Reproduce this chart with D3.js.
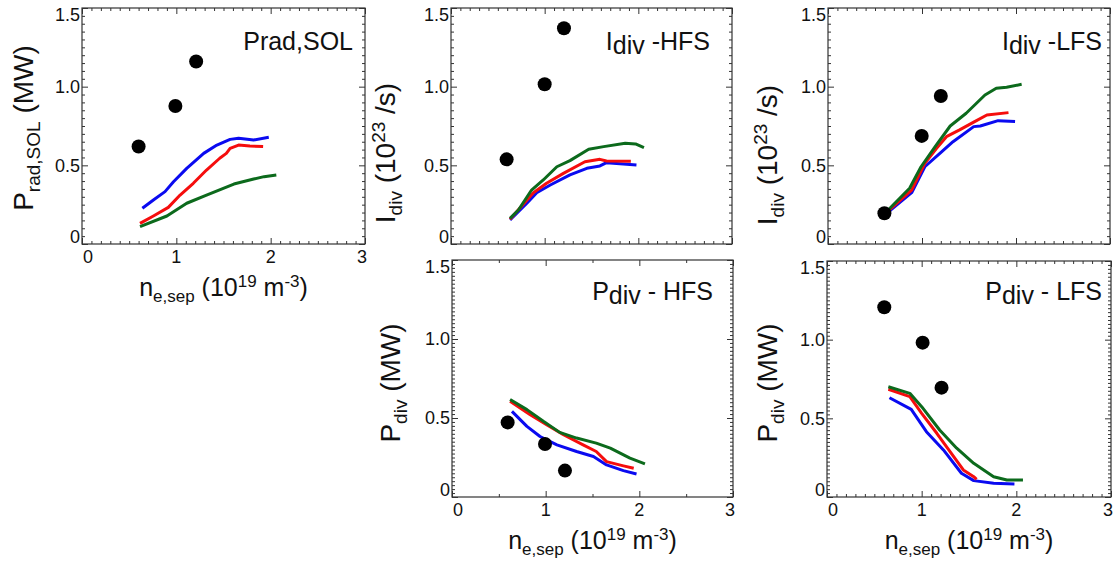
<!DOCTYPE html>
<html>
<head>
<meta charset="utf-8">
<script src="https://cdn.jsdelivr.net/npm/d3@7"></script>
<style>
  html, body { margin: 0; padding: 0; background: #fff; }
  svg { display: block; font-family: "Liberation Sans", Arial, Helvetica, sans-serif; }
</style>
</head>
<body>
<svg id="chart" width="1119" height="567"></svg>
<script>
// ---------- data ----------
const xTickValues = [0, 1, 2, 3];
const xTickLabels = ["0", "1", "2", "3"];
const yTickValues = [0, 0.5, 1.0, 1.5];
const yTickLabels = ["0", "0.5", "1.0", "1.5"];
const seriesNames = ["blue", "red", "green"];

// Panel A: Prad,SOL (MW)
const pradDots  = [[0.60, 0.62], [0.99, 0.877], [1.21, 1.16]];
const pradBlue  = [[0.64,0.227],[0.757,0.28],[0.88,0.333],[0.97,0.396],[1.11,0.481],[1.29,0.576],[1.43,0.629],[1.57,0.665],[1.66,0.672],[1.82,0.661],[1.98,0.678]];
const pradRed   = [[0.615,0.131],[0.757,0.178],[0.915,0.233],[1.04,0.311],[1.18,0.386],[1.32,0.47],[1.46,0.545],[1.53,0.576],[1.57,0.608],[1.66,0.629],[1.78,0.623],[1.92,0.619]];
const pradGreen = [[0.615,0.11],[0.90,0.178],[1.11,0.259],[1.32,0.311],[1.61,0.381],[1.82,0.413],[1.93,0.428],[2.06,0.439]];

// Panel B: Idiv - HFS (1e23 /s)
const idivHfsDots  = [[0.594, 0.538], [1.0, 1.015], [1.206, 1.371]];
const idivHfsBlue  = [[0.63,0.153],[0.81,0.259],[0.915,0.326],[1.06,0.375],[1.27,0.439],[1.45,0.481],[1.59,0.496],[1.66,0.517],[1.84,0.508],[1.98,0.502]];
const idivHfsRed   = [[0.63,0.157],[0.88,0.326],[1.02,0.386],[1.20,0.449],[1.43,0.523],[1.59,0.538],[1.66,0.528],[1.92,0.526]];
const idivHfsGreen = [[0.63,0.163],[0.72,0.216],[0.86,0.343],[0.985,0.407],[1.13,0.491],[1.27,0.53],[1.47,0.602],[1.63,0.619],[1.86,0.64],[1.97,0.636],[2.06,0.612]];

// Panel C: Idiv - LFS (1e23 /s)
const idivLfsDots  = [[0.60, 0.195], [0.997, 0.687], [1.20, 0.941]];
const idivLfsBlue  = [[0.64,0.203],[0.89,0.326],[1.03,0.491],[1.19,0.576],[1.33,0.65],[1.55,0.746],[1.62,0.75],[1.81,0.784],[1.99,0.778]];
const idivLfsRed   = [[0.64,0.21],[0.89,0.343],[1.03,0.513],[1.155,0.608],[1.26,0.682],[1.40,0.725],[1.56,0.778],[1.69,0.82],[1.92,0.835]];
const idivLfsGreen = [[0.64,0.216],[0.868,0.354],[0.99,0.491],[1.14,0.619],[1.30,0.75],[1.47,0.831],[1.67,0.947],[1.79,0.99],[1.90,0.996],[2.06,1.015]];

// Panel D: Pdiv - HFS (MW)
const pdivHfsDots  = [[0.594, 0.472], [0.993, 0.335], [1.206, 0.167]];
const pdivHfsBlue  = [[0.64,0.542],[0.80,0.447],[0.94,0.383],[1.12,0.33],[1.33,0.288],[1.51,0.256],[1.65,0.203],[1.83,0.167],[1.97,0.146]];
const pdivHfsRed   = [[0.62,0.606],[0.835,0.521],[1.01,0.458],[1.19,0.394],[1.40,0.33],[1.54,0.288],[1.65,0.224],[1.83,0.197],[1.94,0.182]];
const pdivHfsGreen = [[0.62,0.617],[0.80,0.553],[0.975,0.479],[1.15,0.409],[1.33,0.373],[1.54,0.341],[1.69,0.309],[1.90,0.246],[2.06,0.21]];

// Panel E: Pdiv - LFS (MW)
const pdivLfsDots  = [[0.605, 1.206], [1.01, 0.981], [1.21, 0.695]];
const pdivLfsBlue  = [[0.66,0.631],[0.89,0.557],[1.05,0.415],[1.23,0.299],[1.42,0.151],[1.55,0.104],[1.76,0.087],[1.98,0.083]];
const pdivLfsRed   = [[0.648,0.685],[0.875,0.638],[1.0,0.532],[1.16,0.405],[1.30,0.288],[1.44,0.172],[1.55,0.129],[1.58,0.112]];
const pdivLfsGreen = [[0.648,0.701],[0.875,0.659],[1.0,0.574],[1.19,0.426],[1.37,0.31],[1.55,0.214],[1.76,0.129],[1.90,0.108],[2.07,0.108]];

// ---------- layout / style ----------
const colors = { blue: "#0a0af0", red: "#f50d0d", green: "#0c6a1c" };
const TICK_FONT = 18, LABEL_FONT = 28, SUB_FONT = 19, XLABEL_FONT = 25, XSUB_FONT = 17, TITLE_FONT = 25;

const panels = [
  { frame: [82, 365, 8, 244], dots: pradDots, lines: [pradBlue, pradRed, pradGreen],
    title: [["Prad,SOL", 0]], titlePos: [353, 50],
    ylabel: [["P",0,LABEL_FONT],["rad,SOL",7,SUB_FONT],[" (MW)",-7,LABEL_FONT]], ylabelPos: [33, 128],
    xlabels: true, xMinor: 0.1, yMinor: 0.05 },
  { frame: [451, 732, 8, 244], dots: idivHfsDots, lines: [idivHfsBlue, idivHfsRed, idivHfsGreen],
    title: [["I", 0], ["div", 4], [" -HFS", -4]], titlePos: [710, 50],
    ylabel: [["I",0,LABEL_FONT],["div",7,SUB_FONT],[" (10",-7,LABEL_FONT],["23",-10,SUB_FONT],[" /s)",10,LABEL_FONT]], ylabelPos: [395, 153],
    xlabels: false, xMinor: 0.1, yMinor: 0.05 },
  { frame: [828, 1110, 8, 244], dots: idivLfsDots, lines: [idivLfsBlue, idivLfsRed, idivLfsGreen],
    title: [["I", 0], ["div", 4], [" -LFS", -4]], titlePos: [1102, 50],
    ylabel: [["I",0,LABEL_FONT],["div",7,SUB_FONT],[" (10",-7,LABEL_FONT],["23",-10,SUB_FONT],[" /s)",10,LABEL_FONT]], ylabelPos: [777, 155],
    xlabels: false, xMinor: 0.1, yMinor: 0.05 },
  { frame: [452, 733, 260, 497], dots: pdivHfsDots, lines: [pdivHfsBlue, pdivHfsRed, pdivHfsGreen],
    title: [["P", 0], ["div", 4], [" - HFS", -4]], titlePos: [713, 300],
    ylabel: [["P",0,LABEL_FONT],["div",7,SUB_FONT],[" (MW)",-7,LABEL_FONT]], ylabelPos: [400, 383],
    xlabels: true, xMinor: 0.5, yMinor: 0.025 },
  { frame: [827, 1111, 261, 497], dots: pdivLfsDots, lines: [pdivLfsBlue, pdivLfsRed, pdivLfsGreen],
    title: [["P", 0], ["div", 4], [" - LFS", -4]], titlePos: [1102, 300],
    ylabel: [["P",0,LABEL_FONT],["div",7,SUB_FONT],[" (MW)",-7,LABEL_FONT]], ylabelPos: [777, 383],
    xlabels: true, xMinor: 0.1, yMinor: 0.025 }
];

const svg = d3.select("#chart");

panels.forEach(p => {
  const [x0, x1, yT, yB] = p.frame;
  const x = d3.scaleLinear().domain([0, 3]).range([x0, x1]);
  const y = d3.scaleLinear().domain([0, 1.5]).range([yB, yT]);
  const g = svg.append("g");

  // frame
  g.append("rect").attr("x", x0).attr("y", yT).attr("width", x1 - x0).attr("height", yB - yT)
    .attr("fill", "none").attr("stroke", "#333").attr("stroke-width", 1.2);

  // axes (ticks pointing inward), majors and minors
  const xMin = d3.range(0, 3 + 1e-9, p.xMinor).filter(v => Math.abs(v - Math.round(v)) > 1e-6);
  const yMin = d3.range(0, 1.5 + 1e-9, p.yMinor).filter(v => Math.abs(v * 2 - Math.round(v * 2)) > 1e-6);
  const axisStyle = sel => { sel.select(".domain").remove(); sel.selectAll("line").attr("stroke", "#333"); sel.selectAll("text").remove(); };

  g.append("g").attr("transform", `translate(0,${yB})`).call(d3.axisBottom(x).tickValues(xTickValues).tickSize(-6)).call(axisStyle);
  g.append("g").attr("transform", `translate(0,${yB})`).call(d3.axisBottom(x).tickValues(xMin).tickSize(-3)).call(axisStyle);
  g.append("g").attr("transform", `translate(0,${yT})`).call(d3.axisTop(x).tickValues(xTickValues).tickSize(-6)).call(axisStyle);
  g.append("g").attr("transform", `translate(0,${yT})`).call(d3.axisTop(x).tickValues(xMin).tickSize(-3)).call(axisStyle);
  g.append("g").attr("transform", `translate(${x0},0)`).call(d3.axisLeft(y).tickValues(yTickValues).tickSize(-6)).call(axisStyle);
  g.append("g").attr("transform", `translate(${x0},0)`).call(d3.axisLeft(y).tickValues(yMin).tickSize(-3)).call(axisStyle);
  g.append("g").attr("transform", `translate(${x1},0)`).call(d3.axisRight(y).tickValues(yTickValues).tickSize(-6)).call(axisStyle);
  g.append("g").attr("transform", `translate(${x1},0)`).call(d3.axisRight(y).tickValues(yMin).tickSize(-3)).call(axisStyle);

  // y tick labels (end labels nudged inward)
  yTickValues.forEach((v, i) => {
    let yy = y(v);
    if (i === 0) yy -= 7;
    if (i === yTickValues.length - 1) yy += 7;
    g.append("text").attr("x", x0 - 2).attr("y", yy).attr("dy", "0.36em")
      .attr("text-anchor", "end").attr("font-size", TICK_FONT).attr("fill", "#111")
      .text(yTickLabels[i]);
  });

  // x tick labels
  if (p.xlabels) {
    xTickValues.forEach((v, i) => {
      let xx = x(v);
      if (i === 0) xx += 6;
      if (i === xTickValues.length - 1) xx -= 3;
      g.append("text").attr("x", xx).attr("y", yB + 19)
        .attr("text-anchor", "middle").attr("font-size", TICK_FONT).attr("fill", "#111")
        .text(xTickLabels[i]);
    });
    // x axis title
    const t = g.append("text").attr("x", (x0 + x1) / 2).attr("y", yB + 52)
      .attr("text-anchor", "middle").attr("font-size", XLABEL_FONT).attr("fill", "#111");
    t.append("tspan").text("n");
    t.append("tspan").attr("font-size", XSUB_FONT).attr("dy", 6).text("e,sep");
    t.append("tspan").attr("dy", -6).text(" (10");
    t.append("tspan").attr("font-size", XSUB_FONT).attr("dy", -9).text("19");
    t.append("tspan").attr("dy", 9).text(" m");
    t.append("tspan").attr("font-size", XSUB_FONT).attr("dy", -9).text("-3");
    t.append("tspan").attr("dy", 9).text(")");
  }

  // y axis title
  const yl = g.append("text").attr("transform", `translate(${p.ylabelPos[0]},${p.ylabelPos[1]}) rotate(-90)`)
    .attr("text-anchor", "middle").attr("fill", "#111");
  p.ylabel.forEach(([s, dy, fs]) => yl.append("tspan").attr("dy", dy).attr("font-size", fs).text(s));

  // panel title
  const tt = g.append("text").attr("x", p.titlePos[0]).attr("y", p.titlePos[1])
    .attr("text-anchor", "end").attr("font-size", TITLE_FONT).attr("fill", "#111");
  p.title.forEach(([s, dy]) => tt.append("tspan").attr("dy", dy).text(s));

  // lines
  const line = d3.line().x(d => x(d[0])).y(d => y(d[1]));
  p.lines.forEach((data, i) => {
    g.append("path").datum(data).attr("d", line).attr("fill", "none")
      .attr("stroke", colors[seriesNames[i]]).attr("stroke-width", 3)
      .attr("stroke-linejoin", "round").attr("stroke-linecap", "butt");
  });

  // experimental dots
  g.selectAll("circle.dot").data(p.dots).enter().append("circle")
    .attr("class", "dot").attr("cx", d => x(d[0])).attr("cy", d => y(d[1]))
    .attr("r", 7).attr("fill", "#000");
});
</script>
</body>
</html>
